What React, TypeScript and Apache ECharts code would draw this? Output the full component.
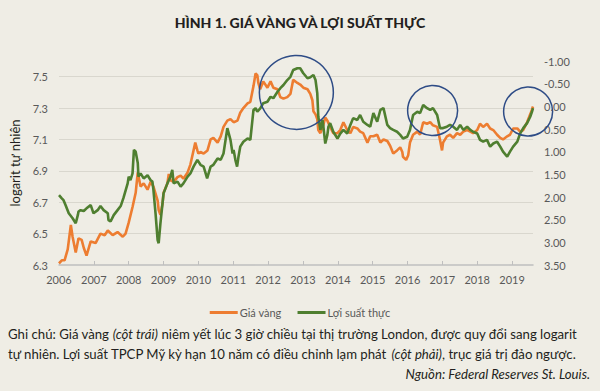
import React, { useEffect, useRef } from "react";
import * as echarts from "echarts";

const titleText = "HÌNH 1. GIÁ VÀNG VÀ LỢI SUẤT THỰC";
const leftAxisName = "logarit tự nhiên";
const seriesNames = ["Giá vàng", "Lợi suất thực"];
const yearTicks = [2006, 2007, 2008, 2009, 2010, 2011, 2012, 2013, 2014, 2015, 2016, 2017, 2018, 2019];

const goldYears = [
  2006.0, 2006.08, 2006.16, 2006.25, 2006.34, 2006.39, 2006.48, 2006.56, 2006.65, 2006.71, 2006.79, 2006.91,
  2007.05, 2007.19, 2007.31, 2007.4, 2007.54, 2007.68, 2007.83, 2007.91, 2008.0, 2008.11, 2008.2, 2008.26,
  2008.34, 2008.43, 2008.54, 2008.63, 2008.71, 2008.83, 2008.86, 2008.91, 2008.97, 2009.0, 2009.11, 2009.15,
  2009.2, 2009.29, 2009.4, 2009.49, 2009.57, 2009.69, 2009.77, 2009.86, 2009.91, 2009.97, 2010.0, 2010.06,
  2010.15, 2010.26, 2010.35, 2010.43, 2010.55, 2010.64, 2010.72, 2010.83, 2010.92, 2011.01, 2011.12, 2011.2,
  2011.29, 2011.41, 2011.49, 2011.58, 2011.64, 2011.69, 2011.72, 2011.77, 2011.86, 2011.98, 2012.07, 2012.15,
  2012.27, 2012.35, 2012.44, 2012.55, 2012.64, 2012.72, 2012.84, 2012.92, 2013.01, 2013.13, 2013.21, 2013.27,
  2013.3, 2013.36, 2013.41, 2013.44, 2013.5, 2013.58, 2013.64, 2013.7, 2013.78, 2013.87, 2013.99, 2014.07,
  2014.16, 2014.27, 2014.36, 2014.44, 2014.56, 2014.64, 2014.73, 2014.85, 2014.93, 2015.02, 2015.13, 2015.22,
  2015.31, 2015.42, 2015.5, 2015.59, 2015.7, 2015.79, 2015.85, 2015.87, 2015.96, 2016.02, 2016.07, 2016.16,
  2016.28, 2016.36, 2016.45, 2016.56, 2016.65, 2016.73, 2016.85, 2016.93, 2016.99, 2017.02, 2017.13, 2017.22,
  2017.31, 2017.42, 2017.51, 2017.6, 2017.71, 2017.8, 2017.88, 2018.0, 2018.08, 2018.17, 2018.28, 2018.37,
  2018.46, 2018.57, 2018.66, 2018.74, 2018.86, 2018.94, 2019.03, 2019.15, 2019.23, 2019.32, 2019.43, 2019.52,
  2019.57, 2019.6,
];
const goldLog = [
  6.31, 6.33, 6.33, 6.4, 6.555, 6.48, 6.38, 6.47, 6.46, 6.41, 6.36, 6.45,
  6.44, 6.5, 6.49, 6.52, 6.49, 6.51, 6.48, 6.5, 6.57, 6.67, 6.76, 6.89,
  6.8, 6.82, 6.78, 6.83, 6.8, 6.71, 6.65, 6.62, 6.69, 6.76, 6.82, 6.88,
  6.84, 6.83, 6.86, 6.87, 6.85, 6.89, 6.94, 7.03, 7.08, 7.03, 7.01, 7.02,
  7.01, 7.03, 7.1, 7.11, 7.08, 7.12, 7.18, 7.22, 7.23, 7.21, 7.22, 7.27,
  7.3, 7.33, 7.34, 7.44, 7.52, 7.51, 7.46, 7.42, 7.47, 7.43, 7.47, 7.43,
  7.42, 7.37, 7.36, 7.37, 7.39, 7.48, 7.46, 7.45, 7.43, 7.42, 7.39, 7.35,
  7.28, 7.26, 7.23, 7.16, 7.14, 7.19, 7.24, 7.22, 7.18, 7.14, 7.14, 7.16,
  7.21, 7.16, 7.14, 7.18, 7.17, 7.15, 7.14, 7.08, 7.12, 7.12, 7.13, 7.08,
  7.1, 7.09, 7.06, 7.01, 7.03, 7.05, 7.02, 6.99, 6.97, 7.0, 7.08, 7.13,
  7.15, 7.13, 7.21, 7.2, 7.21, 7.19, 7.18, 7.1, 7.03, 7.08, 7.12, 7.13,
  7.11, 7.14, 7.13, 7.15, 7.16, 7.15, 7.14, 7.16, 7.2, 7.18, 7.2, 7.17,
  7.16, 7.13, 7.11, 7.1, 7.12, 7.13, 7.17, 7.17, 7.15, 7.16, 7.21, 7.26,
  7.29, 7.31,
];

const yieldYears = [
  2006.0, 2006.08, 2006.13, 2006.19, 2006.28, 2006.39, 2006.48, 2006.54, 2006.56, 2006.62, 2006.71, 2006.79,
  2006.91, 2006.99, 2007.11, 2007.19, 2007.28, 2007.4, 2007.42, 2007.48, 2007.57, 2007.68, 2007.77, 2007.85,
  2007.97, 2008.0, 2008.05, 2008.11, 2008.15, 2008.2, 2008.26, 2008.28, 2008.34, 2008.43, 2008.54, 2008.63,
  2008.68, 2008.71, 2008.77, 2008.83, 2008.86, 2008.91, 2008.97, 2009.0, 2009.11, 2009.2, 2009.25, 2009.29,
  2009.4, 2009.49, 2009.57, 2009.69, 2009.77, 2009.86, 2009.97, 2010.06, 2010.15, 2010.25, 2010.35, 2010.43,
  2010.55, 2010.64, 2010.72, 2010.83, 2010.92, 2010.98, 2011.01, 2011.06, 2011.11, 2011.15, 2011.2, 2011.29,
  2011.41, 2011.49, 2011.58, 2011.64, 2011.69, 2011.78, 2011.86, 2011.98, 2012.07, 2012.15, 2012.27, 2012.35,
  2012.44, 2012.55, 2012.64, 2012.72, 2012.84, 2012.92, 2013.01, 2013.13, 2013.21, 2013.3, 2013.36, 2013.41,
  2013.44, 2013.5, 2013.56, 2013.58, 2013.64, 2013.7, 2013.73, 2013.78, 2013.87, 2013.99, 2014.07, 2014.16,
  2014.27, 2014.36, 2014.44, 2014.56, 2014.64, 2014.73, 2014.85, 2014.93, 2015.02, 2015.13, 2015.22, 2015.31,
  2015.42, 2015.5, 2015.59, 2015.7, 2015.79, 2015.87, 2015.99, 2016.07, 2016.16, 2016.28, 2016.36, 2016.45,
  2016.56, 2016.65, 2016.73, 2016.85, 2016.93, 2017.02, 2017.13, 2017.22, 2017.31, 2017.42, 2017.51, 2017.6,
  2017.71, 2017.8, 2017.88, 2018.0, 2018.08, 2018.17, 2018.28, 2018.37, 2018.46, 2018.57, 2018.66, 2018.74,
  2018.86, 2018.94, 2019.03, 2019.15, 2019.23, 2019.32, 2019.43, 2019.52, 2019.57, 2019.6,
];
const yieldValues = [
  1.96, 2.03, 2.07, 2.18, 2.36, 2.47, 2.58, 2.4, 2.32, 2.29, 2.31, 2.25,
  2.18, 2.36, 2.29, 2.2, 2.29, 2.36, 2.51, 2.54, 2.4, 2.29, 2.2, 2.02,
  1.7, 1.55, 1.63, 1.48, 0.96, 1.0, 1.25, 1.55, 1.48, 1.59, 1.52, 1.63,
  1.66, 1.85, 2.36, 2.95, 3.02, 2.58, 2.14, 1.92, 1.7, 1.55, 1.4, 1.7,
  1.66, 1.77, 1.7, 1.55, 1.48, 1.33, 1.18, 1.29, 1.33, 1.59, 1.33, 1.29,
  1.15, 1.18, 1.04, 0.48, 0.74, 1.04, 0.96, 1.18, 1.33, 1.11, 0.89, 0.78,
  0.71, 0.74, 0.08, 0.04, 0.12, 0.04, -0.07, -0.1, -0.21, -0.18, -0.32, -0.4,
  -0.47, -0.58, -0.65, -0.8, -0.84, -0.84, -0.73, -0.62, -0.64, -0.69, -0.58, -0.29,
  0.23, 0.52, 0.3, 0.41, 0.82, 0.63, 0.45, 0.37, 0.56, 0.71, 0.6, 0.52,
  0.6, 0.41, 0.26, 0.3, 0.19, 0.34, 0.41, 0.45, 0.15, 0.34, 0.08, 0.04,
  0.41, 0.48, 0.52, 0.56, 0.63, 0.71, 0.67, 0.52, 0.19, 0.12, 0.15, -0.03,
  0.04, 0.08, 0.04, 0.19, 0.48, 0.48, 0.45, 0.41, 0.45, 0.52, 0.41, 0.52,
  0.45, 0.52, 0.56, 0.6, 0.74, 0.78, 0.74, 0.89, 0.82, 0.78, 0.89, 1.0,
  1.11, 1.0, 0.89, 0.78, 0.6, 0.48, 0.37, 0.23, 0.12, 0.04,
];

// highlight circles: centre in (year, left-axis value), radius in px
const circleYears = [2012.81, 2016.72, 2019.46];
const circleValues = [7.4, 7.284, 7.278];
const circleRadii = [37, 25, 24.5];

const noteLine1 = [
  { t: "Ghi chú: Giá vàng ", s: "n" },
  { t: "(cột trái)", s: "i" },
  { t: " niêm yết lúc 3 giờ chiều tại thị trường London, được quy đổi sang logarit", s: "n" },
];
const noteLine2 = [
  { t: "tự nhiên. Lợi suất TPCP Mỹ kỳ hạn 10 năm có điều chỉnh lạm phát ", s: "n" },
  { t: "(cột phải)", s: "i" },
  { t: ", trục giá trị đảo ngược.", s: "n" },
];
const sourceText = "Nguồn: Federal Reserves St. Louis.";

const BG = "#efede5";
const ORANGE = "#ed7d31";
const GREEN = "#4f7f30";
const FONT = "Lato, 'Noto Sans', sans-serif";

function richLine(parts: { t: string; s: string }[]) {
  return parts.map((p) => `{${p.s}|${p.t}}`).join("");
}

export default function App() {
  const ref = useRef<HTMLDivElement>(null);
  useEffect(() => {
    document.body.style.margin = "0";
    if (!ref.current) return;
    const chart = echarts.init(ref.current, undefined, { renderer: "svg" });
    const goldData = goldYears.map((y, i) => [y, goldLog[i]]);
    const yieldData = yieldYears.map((y, i) => [y, yieldValues[i]]);
    const noteStyle = {
      fontFamily: FONT,
      fontSize: 13.2,
      fill: "#231f20",
      rich: {
        n: { fontFamily: FONT, fontSize: 13.2, color: "#231f20" },
        i: { fontFamily: FONT, fontSize: 13.2, color: "#231f20", fontStyle: "italic" },
      },
    };
    chart.setOption({
      animation: false,
      backgroundColor: BG,
      title: {
        text: titleText,
        left: "center",
        top: 10,
        textStyle: { fontFamily: FONT, fontWeight: 900, fontSize: 14, color: "#231f20" },
      },
      grid: { left: 58, right: 67, top: 61, bottom: 126, containLabel: false },
      legend: {
        data: seriesNames,
        top: 302,
        left: "center",
        icon: "rect",
        itemWidth: 28,
        itemHeight: 3,
        itemGap: 16,
        textStyle: { fontFamily: FONT, fontSize: 11, color: "#595959", padding: [0, 0, 0, -3] },
      },
      xAxis: {
        type: "value",
        min: 2006,
        max: 2019.6,
        interval: 1,
        axisLine: { show: true, onZero: false, lineStyle: { color: "#bfbfbf", width: 1.5 } },
        axisTick: { show: true, inside: true, length: 4, lineStyle: { color: "#bfbfbf" } },
        axisLabel: {
          showMaxLabel: false,
          margin: 9,
          fontFamily: FONT,
          fontSize: 11,
          color: "#595959",
          formatter: (v: number) => (yearTicks.includes(Math.round(v)) && Math.abs(v - Math.round(v)) < 1e-6 ? String(Math.round(v)) : ""),
        },
        splitLine: { show: false },
      },
      yAxis: [
        {
          type: "value",
          min: 6.3,
          max: 7.6,
          interval: 0.2,
          name: leftAxisName,
          nameLocation: "middle",
          nameGap: 38,
          nameTextStyle: { fontFamily: FONT, fontSize: 13, color: "#231f20" },
          axisLine: { show: false },
          axisTick: { show: false },
          axisLabel: {
            showMaxLabel: false,
            margin: 11,
            fontFamily: FONT,
            fontSize: 11,
            color: "#595959",
            formatter: (v: number) => v.toFixed(1),
          },
          splitLine: { show: true, showMinLine: false, showMaxLine: false, lineStyle: { color: "#d9d7ce", width: 1 } },
        },
        {
          type: "value",
          inverse: true,
          min: -1,
          max: 3.5,
          interval: 0.5,
          axisLine: { show: false },
          axisTick: { show: false },
          axisLabel: {
            margin: 11,
            fontFamily: FONT,
            fontSize: 11,
            color: "#595959",
            formatter: (v: number) => v.toFixed(2),
          },
          splitLine: { show: false },
        },
      ],
      series: [
        {
          name: seriesNames[0],
          type: "line",
          yAxisIndex: 0,
          data: goldData,
          showSymbol: false,
          symbol: "none",
          lineStyle: { color: ORANGE, width: 2.6 },
          itemStyle: { color: ORANGE },
        },
        {
          name: seriesNames[1],
          type: "line",
          yAxisIndex: 1,
          data: yieldData,
          showSymbol: false,
          symbol: "none",
          lineStyle: { color: GREEN, width: 2.6 },
          itemStyle: { color: GREEN },
        },
      ],
    });

    const circles = circleYears.map((yr, i) => {
      const p = chart.convertToPixel({ xAxisIndex: 0, yAxisIndex: 0 }, [yr, circleValues[i]]) as number[];
      return {
        type: "circle",
        shape: { cx: p[0], cy: p[1], r: circleRadii[i] },
        style: { fill: "none", stroke: "#2e4c86", lineWidth: 1.5 },
        z: 100,
      };
    });

    chart.setOption({
      graphic: [
        ...circles,
        {
          type: "text",
          left: 8,
          top: 327,
          style: { ...noteStyle, text: richLine(noteLine1) },
        },
        {
          type: "text",
          left: 8,
          top: 347,
          style: { ...noteStyle, text: richLine(noteLine2) },
        },
        {
          type: "text",
          right: 10,
          top: 367,
          style: { fontFamily: FONT, fontSize: 13.2, fontStyle: "italic", fill: "#231f20", text: sourceText },
        },
      ],
    });

    return () => chart.dispose();
  }, []);
  return <div ref={ref} style={{ width: 600, height: 391 }} />;
}
